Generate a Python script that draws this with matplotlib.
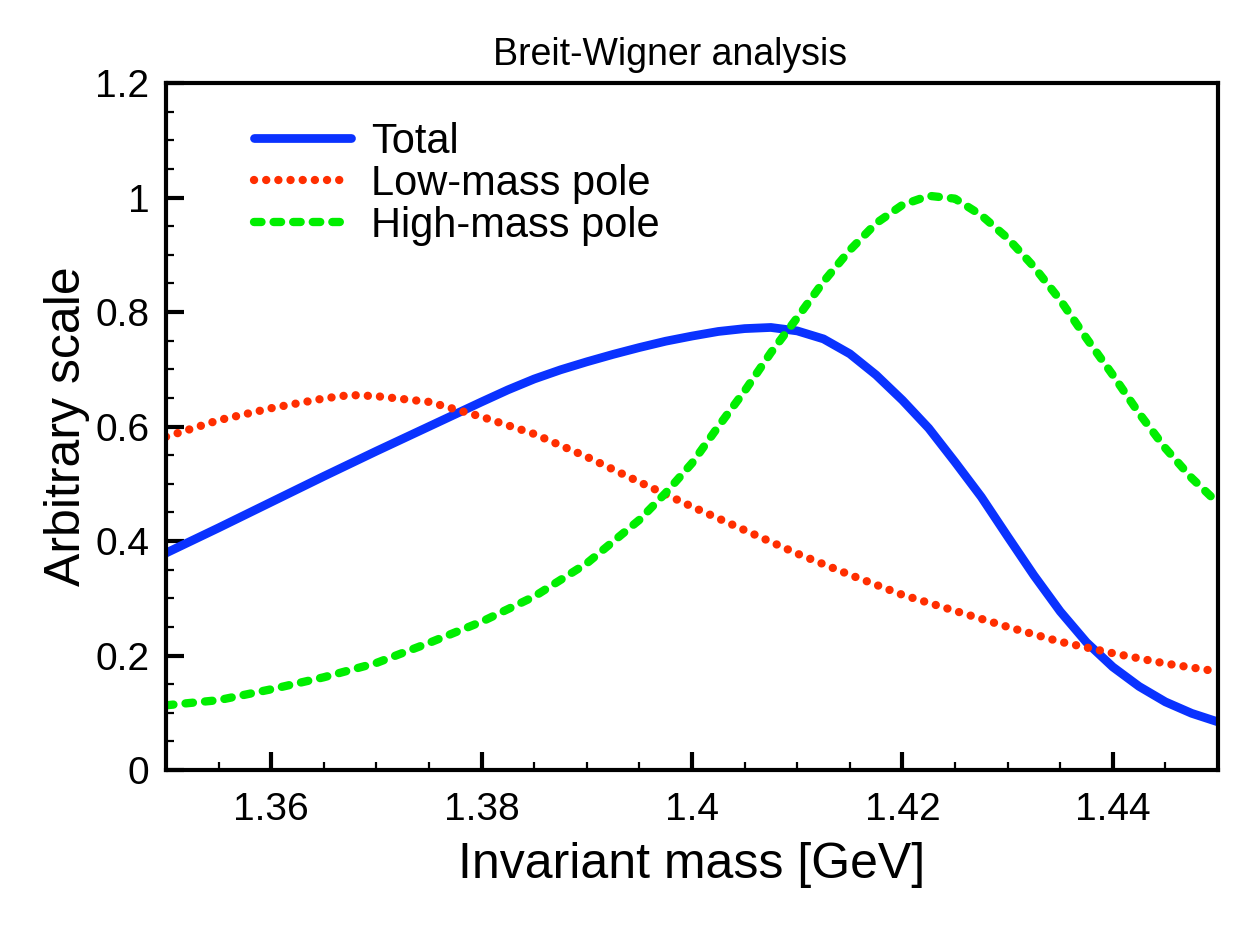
import matplotlib
matplotlib.use('Agg')
import matplotlib.pyplot as plt
from matplotlib.ticker import MultipleLocator, FormatStrFormatter

# values
mass_total = [1.350, 1.355, 1.360, 1.365, 1.370, 1.375, 1.380, 1.3825, 1.385, 1.3875,
              1.390, 1.3925, 1.395, 1.3975, 1.400, 1.4025, 1.405, 1.4075, 1.410, 1.4125,
              1.415, 1.4175, 1.420, 1.4225, 1.425, 1.4275, 1.430, 1.4325, 1.435, 1.4375,
              1.440, 1.4425, 1.445, 1.4475, 1.450]
total = [0.379, 0.423, 0.468, 0.513, 0.557, 0.600, 0.643, 0.664, 0.683, 0.699,
         0.713, 0.726, 0.738, 0.749, 0.758, 0.766, 0.771, 0.773, 0.767, 0.753,
         0.727, 0.690, 0.646, 0.597, 0.538, 0.477, 0.408, 0.340, 0.277, 0.223,
         0.180, 0.146, 0.119, 0.099, 0.084]

mass_low = [1.350, 1.355, 1.360, 1.365, 1.3675, 1.370, 1.375, 1.380, 1.385, 1.390,
            1.395, 1.400, 1.405, 1.410, 1.415, 1.420, 1.425, 1.430, 1.435, 1.440,
            1.445, 1.450]
low_pole = [0.582, 0.611, 0.632, 0.649, 0.655, 0.653, 0.643, 0.617, 0.587, 0.547,
            0.503, 0.460, 0.419, 0.378, 0.341, 0.306, 0.278, 0.250, 0.224, 0.204,
            0.186, 0.172]

mass_high = [1.350, 1.355, 1.360, 1.365, 1.370, 1.375, 1.380, 1.385, 1.390, 1.395,
             1.3975, 1.400, 1.4025, 1.405, 1.4075, 1.410, 1.4125, 1.415, 1.4175, 1.420,
             1.4225, 1.425, 1.4275, 1.430, 1.4325, 1.435, 1.4375, 1.440, 1.4425, 1.445,
             1.4475, 1.450]
high_pole = [0.113, 0.122, 0.141, 0.162, 0.187, 0.222, 0.259, 0.303, 0.361, 0.437,
             0.484, 0.536, 0.600, 0.662, 0.729, 0.790, 0.853, 0.908, 0.955, 0.987,
             1.003, 0.998, 0.969, 0.929, 0.879, 0.821, 0.754, 0.690, 0.623, 0.562,
             0.510, 0.466]

plt.rcParams['font.family'] = ['Liberation Sans', 'DejaVu Sans']

fig = plt.figure(figsize=(12.5, 9.38), dpi=100)
ax = fig.add_axes([0.1328, 0.1791, 0.8416, 0.7324])

ax.plot(mass_total, total, color='#0a32ff', lw=6.3, solid_capstyle='round',
        solid_joinstyle='round', label='Total')
ax.plot(mass_low, low_pole, color='#ff2e00', lw=6.0, dash_capstyle='round',
        ls=(0, (0.01, 1.45)), label='Low-mass pole')
ax.plot(mass_high, high_pole, color='#00ee00', lw=6.0, dash_capstyle='round',
        dash_joinstyle='round', ls=(0, (0.9, 1.45)), label='High-mass pole')

ax.set_xlim(1.35, 1.45)
ax.set_ylim(0, 1.2)

ax.xaxis.set_major_locator(MultipleLocator(0.02))
ax.xaxis.set_minor_locator(MultipleLocator(0.005))
ax.yaxis.set_major_locator(MultipleLocator(0.2))
ax.yaxis.set_minor_locator(MultipleLocator(0.05))
ax.xaxis.set_major_formatter(FormatStrFormatter('%g'))
ax.yaxis.set_major_formatter(FormatStrFormatter('%g'))

ax.tick_params(which='both', direction='in', top=False, right=False, labelsize=28)
ax.tick_params(which='major', length=13, width=3)
ax.tick_params(which='minor', length=6, width=1.6)
ax.tick_params(axis='x', which='major', pad=16)
ax.tick_params(axis='y', which='major', pad=12)

for sp in ax.spines.values():
    sp.set_linewidth(3)

ax.set_xlabel('Invariant mass [GeV]', fontsize=36, labelpad=10)
ax.set_ylabel('Arbitrary scale', fontsize=36, labelpad=4)
# title sits a little left of the axes centre in the original
fig.text(0.536, 0.941, 'Breit-Wigner analysis', fontsize=27, ha='center', va='center')

ax.legend(loc='upper left', bbox_to_anchor=(0.068, 0.968), frameon=False,
          fontsize=30, handlelength=2.33, handletextpad=0.48, labelspacing=0.05,
          borderaxespad=0)

fig.savefig('out.png', dpi=100)
